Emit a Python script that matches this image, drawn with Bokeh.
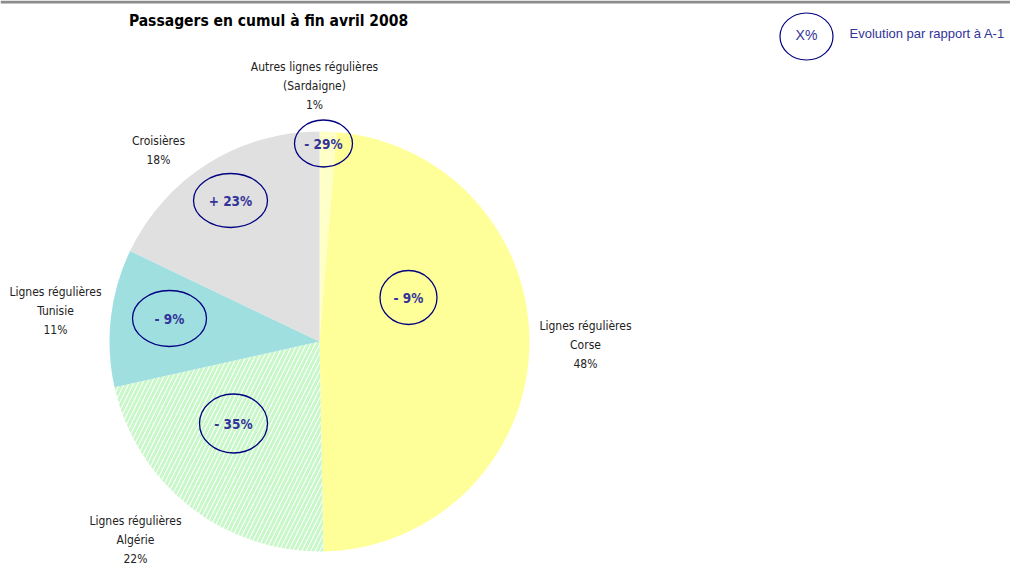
import numpy as np
from bokeh.plotting import figure
from bokeh.models import ColumnDataSource, Range1d, Span
from bokeh.core.properties import value
from bokeh.embed import file_html
from bokeh.resources import INLINE

# ---------------- data ----------------
categories = ["Autres lignes régulières\n(Sardaigne)", "Lignes régulières\nCorse",
              "Lignes régulières\nAlgérie", "Lignes régulières\nTunisie", "Croisières"]
shares = [1.3, 48.4, 21.8, 10.6, 17.9]          # % of passengers
share_labels = ["1%", "48%", "22%", "11%", "18%"]
evolutions = ["- 29%", "- 9%", "- 35%", "- 9%", "+ 23%"]
title_text = "Passagers en cumul à fin avril 2008"
legend_symbol = "X%"
legend_text = "Evolution par rapport à A-1"

# ---------------- styles / layout ----------------
fills = ["#FFFFC8", "#FFFF99", "#FFFFFF", "#A0DFE0", "#E0E0E0"]
hatches = [" ", " ", "/", " ", " "]
W, H = 1010, 566


def X(px):
    return px


def Y(py):
    return 566 - py


CX, CY, R = 319, 341, 210
# label block centres (first line) in reference pixels
label_pos = [(314, 66), (585, 325), (135, 520), (55, 291), (158, 140)]
LINE = 19.2
# evolution ellipses (centre x, centre y, width, height) in reference pixels
ell_pos = [(323, 143, 58, 47), (408, 297, 57, 54), (233, 423, 68, 59),
           (169, 318, 74, 56), (230, 200, 74, 54)]

NARROW = value("'Arial Narrow', 'Liberation Sans Narrow', 'DejaVu Sans Condensed', 'Roboto Condensed', Roboto, sans-serif")
ARIAL = value("'Liberation Sans', Arial, sans-serif")

p = figure(width=W, height=H, output_backend="svg", toolbar_location=None,
           x_range=Range1d(0, W), y_range=Range1d(0, H),
           min_border=0, outline_line_color=None)
p.axis.visible = False
p.grid.visible = False
p.background_fill_color = "white"
p.border_fill_color = "white"

# top grey rule
p.add_layout(Span(location=Y(1.5), dimension="width", line_color="#8c8c8c", line_width=3))

# ---------------- pie ----------------
frac = np.array(shares) / sum(shares)
cum = np.concatenate([[0], np.cumsum(frac)])
start = np.pi / 2 - cum[1:] * 2 * np.pi
end = np.pi / 2 - cum[:-1] * 2 * np.pi
src = ColumnDataSource(dict(start=start, end=end, fill=fills, hatch=hatches))
p.wedge(x=X(CX), y=Y(CY), radius=R, start_angle="start", end_angle="end", source=src,
        fill_color="fill", line_color=None, hatch_pattern="hatch",
        hatch_color="#C8F7C8", hatch_scale=9, hatch_weight=3)

# ---------------- category labels ----------------
lx, ly, lt = [], [], []
for cat, lab, (px, py) in zip(categories, share_labels, label_pos):
    lines = cat.split("\n") + [lab]
    for i, t in enumerate(lines):
        lx.append(X(px)); ly.append(Y(py + i * LINE)); lt.append(t)
p.text(x=lx, y=ly, text=lt, text_align="center", text_baseline="middle",
       text_font=NARROW, text_font_size="12px", text_color="#222222")

# ---------------- evolution ellipses ----------------
ex = [X(e[0]) for e in ell_pos]
ey = [Y(e[1]) for e in ell_pos]
ew = [e[2] for e in ell_pos]
eh = [e[3] for e in ell_pos]
p.ellipse(x=ex, y=ey, width=ew, height=eh, fill_color=None, line_color="#000080", line_width=1.3)
p.text(x=ex, y=ey, text=evolutions, text_align="center", text_baseline="middle",
       text_font=NARROW, text_font_size="13.5px", text_font_style="bold", text_color="#333399")

# ---------------- title ----------------
p.text(x=[X(268)], y=[Y(20)], text=[title_text], text_align="center", text_baseline="middle",
       text_font=NARROW, text_font_size="15.5px", text_font_style="bold", text_color="#000000")

# ---------------- legend ----------------
p.ellipse(x=[X(806)], y=[Y(36)], width=[53], height=[47], fill_color=None,
          line_color="#000080", line_width=1.2)
p.text(x=[X(806)], y=[Y(34)], text=[legend_symbol], text_align="center", text_baseline="middle",
       text_font=ARIAL, text_font_size="14px", text_color="#333399")
p.text(x=[X(849)], y=[Y(33)], text=[legend_text], text_align="left", text_baseline="middle",
       text_font=ARIAL, text_font_size="13px", text_color="#333399")

open("out.html", "w").write(file_html(p, INLINE))
